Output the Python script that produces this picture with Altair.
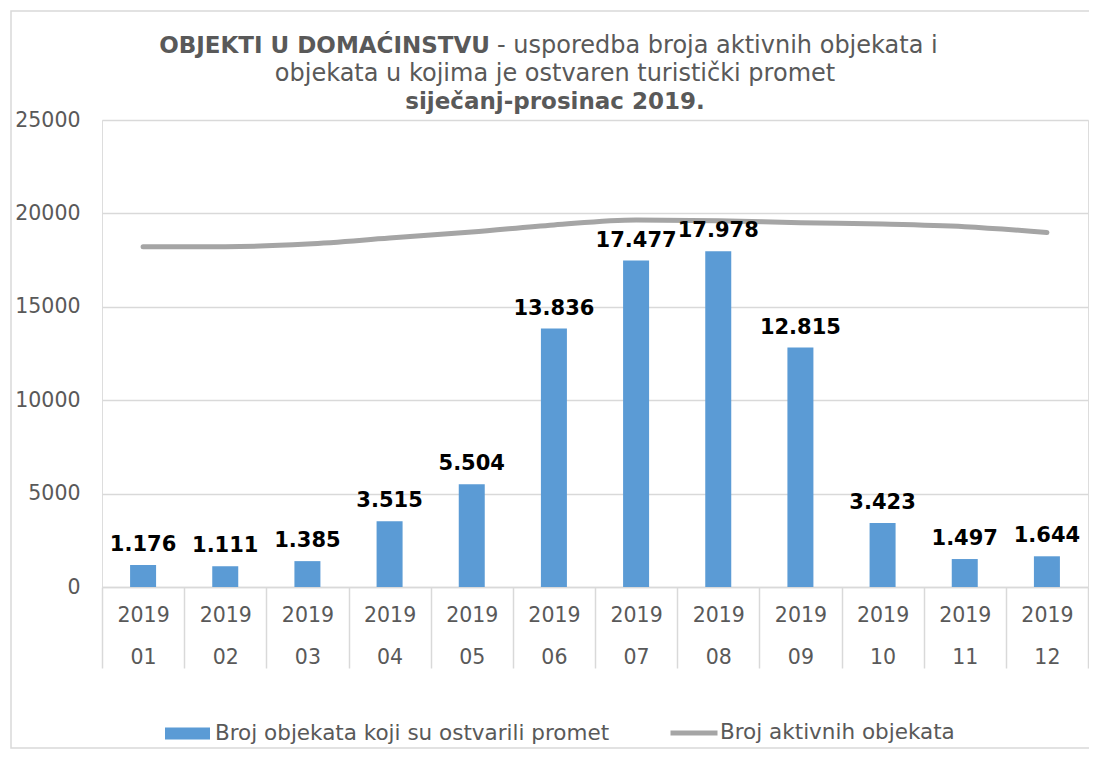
import altair as alt
import pandas as pd

months = ["01", "02", "03", "04", "05", "06", "07", "08", "09", "10", "11", "12"]
promet = [1176, 1111, 1385, 3515, 5504, 13836, 17477, 17978, 12815, 3423, 1497, 1644]
aktivni = [18220, 18220, 18360, 18680, 19000, 19380, 19650, 19610, 19500, 19430, 19290, 18980]
y_ticks = [0, 5000, 10000, 15000, 20000, 25000]
s_bar = "Broj objekata koji su ostvarili promet"
s_line = "Broj aktivnih objekata"

df = pd.DataFrame({
    "month": months,
    "promet": promet,
    "aktivni": aktivni,
    "label": [f"{v:,}".replace(",", ".") for v in promet],
    "s_bar": s_bar,
    "s_line": s_line,
})

W, H = 986, 467
FONT = "DejaVu Sans"
GREY = "#595959"

x_enc = alt.X(
    "month:N",
    sort=months,
    scale=alt.Scale(paddingInner=0, paddingOuter=0),
    axis=alt.Axis(
        title=None,
        labelAngle=0,
        labelExpr="(datum.label == null || datum.label == '') ? '' : ['2019', datum.label]",
        labelLineHeight=42,
        labelFont=FONT,
        labelFontSize=20.5,
        labelColor=GREY,
        labelPadding=-63,
        labelBaseline="top",
        tickBand="extent",
        tickSize=81,
        tickColor="#d9d9d9",
        tickWidth=1.5,
        domainColor="#d9d9d9",
        domainWidth=1.5,
    ),
)

y_scale = alt.Scale(domain=[0, 25000], nice=False)

bars = alt.Chart(df).mark_bar(size=26).encode(
    x=x_enc,
    y=alt.Y(
        "promet:Q",
        scale=y_scale,
        axis=alt.Axis(
            title=None,
            values=y_ticks,
            format="d",
            labelFont=FONT,
            labelFontSize=20.5,
            labelColor=GREY,
            labelPadding=22,
            domain=False,
            ticks=False,
            gridColor="#d9d9d9",
            gridWidth=1.5,
        ),
    ),
    fill=alt.Fill(
        "s_bar:N",
        scale=alt.Scale(domain=[s_bar], range=["#5B9BD5"]),
        legend=alt.Legend(
            title=None,
            orient="none",
            legendX=63,
            legendY=591,
            padding=0,
            symbolType="M-1,-0.27L1,-0.27L1,0.27L-1,0.27Z",
            symbolSize=2025,
            symbolStrokeWidth=0,
            labelFont=FONT,
            labelFontSize=21.5,
            labelColor=GREY,
            labelOffset=5,
            labelLimit=0,
        ),
    ),
)

line = alt.Chart(df).mark_line(
    interpolate="monotone", strokeWidth=5, strokeCap="round"
).encode(
    x=alt.X("month:N", sort=months),
    y=alt.Y("aktivni:Q", scale=y_scale),
    stroke=alt.Stroke(
        "s_line:N",
        scale=alt.Scale(domain=[s_line], range=["#A5A5A5"]),
        legend=alt.Legend(
            title=None,
            orient="none",
            legendX=566,
            legendY=587,
            padding=0,
            symbolType="stroke",
            symbolSize=2209,
            symbolStrokeWidth=5,
            labelFont=FONT,
            labelFontSize=21.5,
            labelColor=GREY,
            labelOffset=0,
            labelLimit=0,
        ),
    ),
)

labels = alt.Chart(df).mark_text(
    font=FONT, fontSize=21, fontWeight="bold", color="black",
    baseline="alphabetic", dy=-14,
).encode(
    x=alt.X("month:N", sort=months),
    y=alt.Y("promet:Q", scale=y_scale),
    text="label:N",
)

one = pd.DataFrame({"k": [0]})
border = alt.Chart(one).mark_rect(
    fill=None, stroke="#d9d9d9", strokeWidth=1.5
).encode(
    x=alt.value(-91), x2=alt.value(989), y=alt.value(-109), y2=alt.value(628)
)

title_parts = [
    ("OBJEKTI U DOMAĆINSTVU", "bold", "right", 388, -74, 23),
    ("- usporedba broja aktivnih objekata i", "normal", "left", 395, -74, 24),
    ("objekata u kojima je ostvaren turistički promet", "normal", "center", 453, -46, 24),
    ("siječanj-prosinac 2019.", "bold", "center", 453, -18, 23),
]
title_layers = []
for txt, wt, al, xx, yy, fs in title_parts:
    title_layers.append(
        alt.Chart(one).mark_text(
            text=txt, font=FONT, fontSize=fs, fontWeight=wt, color=GREY,
            align=al, baseline="middle",
        ).encode(x=alt.value(xx), y=alt.value(yy))
    )

chart = alt.layer(border, bars, line, labels, *title_layers).properties(
    width=W, height=H,
    padding={"left": 94, "top": 112, "right": 1, "bottom": 162},
    autosize=alt.AutoSizeParams(type="none"),
).configure_view(stroke=None).configure(background="white")

chart.save("out.html", embed_options={"renderer": "svg", "actions": False})
